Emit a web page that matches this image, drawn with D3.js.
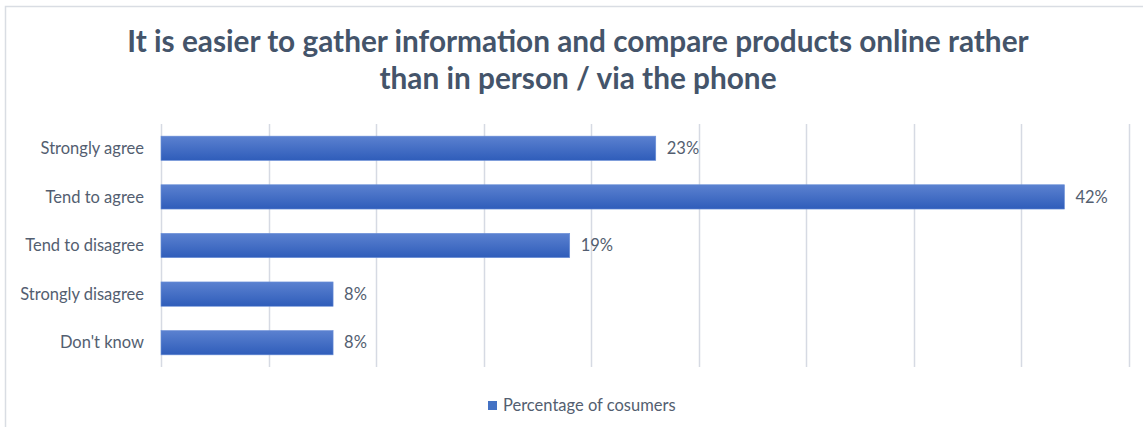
<!DOCTYPE html>
<html><head><meta charset="utf-8">
<script src="https://cdn.jsdelivr.net/npm/d3@7"></script>
<style>body{margin:0;background:#fff;} svg{display:block;}</style>
</head><body>
<svg id="c" width="1143" height="427"></svg>
<script>
const categories = ["Strongly agree","Tend to agree","Tend to disagree","Strongly disagree","Don't know"];
const values = [23, 42, 19, 8, 8];
const xTicks = [0,5,10,15,20,25,30,35,40,45];
const seriesName = "Percentage of cosumers";
const titleLines = ["It is easier to gather information and compare products online rather","than in person / via the phone"];

const svg = d3.select("#c");
const font = "Lato, 'Open Sans', sans-serif";
const titleColor = "#44546a";
const textColor = "#535e70";
const labelSize = 16.5;

// chart border
svg.append("rect").attr("x",5.5).attr("y",6.5).attr("width",1150).attr("height",440)
  .attr("fill","none").attr("stroke","#d9dde3").attr("stroke-width",1.5);

const defs = svg.append("defs");
const g = defs.append("linearGradient").attr("id","bg").attr("x1",0).attr("y1",0).attr("x2",0).attr("y2",1);
g.append("stop").attr("offset","0%").attr("stop-color","#5b81d0");
g.append("stop").attr("offset","100%").attr("stop-color","#2f5dba");

const x = d3.scaleLinear().domain([0,45]).range([161,1129]);
const y = d3.scaleBand().domain(categories).range([124,367]).paddingInner(0.5).paddingOuter(0.25);

// gridlines
svg.append("g").selectAll("line").data(xTicks).join("line")
  .attr("x1",d=>Math.round(x(d))+0.5).attr("x2",d=>Math.round(x(d))+0.5)
  .attr("y1",124).attr("y2",367).attr("stroke","#d6dae3").attr("stroke-width",1.5);

// title
const tg = svg.append("g");
const tBase = [52, 89];
titleLines.forEach((t,i)=>{
  tg.append("text").attr("x",578).attr("y",tBase[i]).attr("text-anchor","middle")
    .attr("font-family",font).attr("font-weight","bold").attr("font-size",26)
    .attr("fill",titleColor).text(t);
});
const t0 = tg.select("text").node();
const w0 = t0.getComputedTextLength();
const fs = 26*902/w0;
tg.selectAll("text").attr("font-size",fs);

// bars
svg.append("g").selectAll("rect").data(values).join("rect")
  .attr("x",x(0)).attr("y",(d,i)=>y(categories[i]))
  .attr("width",d=>x(d)-x(0)).attr("height",y.bandwidth())
  .attr("fill","url(#bg)").attr("stroke","#6a8fd8").attr("stroke-width",0.6);

// data labels
svg.append("g").selectAll("text").data(values).join("text")
  .attr("x",d=>x(d)+11).attr("y",(d,i)=>y(categories[i])+y.bandwidth()/2)
  .attr("dy","0.35em").attr("font-family",font).attr("font-size",labelSize)
  .attr("fill",textColor).text(d=>d+"%");

// category axis labels
svg.append("g").selectAll("text").data(categories).join("text")
  .attr("x",144).attr("y",d=>y(d)+y.bandwidth()/2).attr("dy","0.35em")
  .attr("text-anchor","end").attr("font-family",font).attr("font-size",labelSize)
  .attr("fill",textColor).text(d=>d);

// legend
svg.append("rect").attr("x",488).attr("y",401).attr("width",9).attr("height",9).attr("fill","#4472c4");
svg.append("text").attr("x",503).attr("y",411).attr("font-family",font).attr("font-size",labelSize)
  .attr("fill",textColor).text(seriesName);
</script>
</body></html>
